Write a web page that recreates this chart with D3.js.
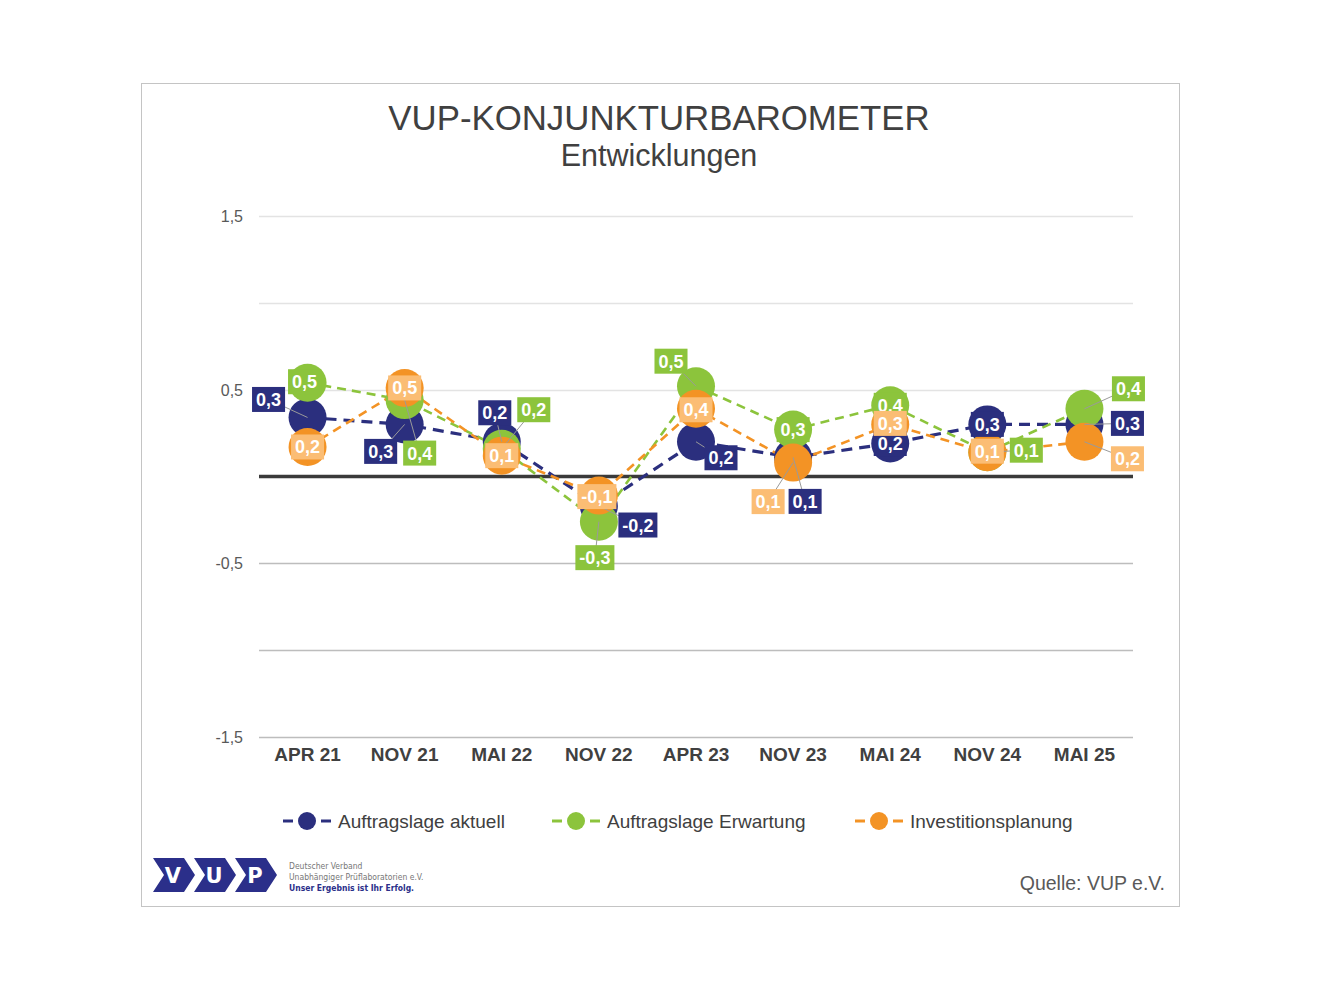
<!DOCTYPE html>
<html>
<head>
<meta charset="utf-8">
<script src="https://cdn.jsdelivr.net/npm/d3@7"></script>
<style>
  body { margin: 0; background: #fff; }
  svg { display: block; }
</style>
</head>
<body>
<div id="chart"></div>
<script>
// data
var categories = ["APR 21", "NOV 21", "MAI 22", "NOV 22", "APR 23", "NOV 23", "MAI 24", "NOV 24", "MAI 25"];
var aktuell    = [0.34, 0.30, 0.20, -0.17, 0.20, 0.11, 0.19, 0.30, 0.30];
var erwartung  = [0.54, 0.44, 0.16, -0.26, 0.52, 0.27, 0.41, 0.14, 0.39];
var investition = [0.17, 0.51, 0.12, -0.11, 0.39, 0.08, 0.30, 0.14, 0.20];
var seriesNames = ["Auftragslage aktuell", "Auftragslage Erwartung", "Investitionsplanung"];
var yTicks = [-1.5, -1, -0.5, 0, 0.5, 1, 1.5];
var yTickLabels = [-1.5, -0.5, 0.5, 1.5];

// label offsets (px) from each marker, per series
var labelShift = [
  [[-39,-18],[-24,27],[-7,-29],[39,19],[25,16],[12,44],[0,0],[0,0],[43,-1]],
  [[-3,-1],[15,53],[32,-39],[-4,36],[-25,-25],[0,0],[0,0],[39,-2],[44,-20]],
  [[0,0],[0,0],[0,0],[-2,1],[0,1],[-25,39],[0,-1],[0,-1],[43,17]]
];

var colors = ["#2b2f7e", "#8cc43c", "#f39325"];
var labelFill = ["#2b2f7e", "#8cc43c", "#fbbd74"];

var W = 1320, H = 990;
var margin = ({top: 216, right: 187, bottom: 253, left: 259});

var svg = d3.select("#chart").append("svg")
  .attr("width", W).attr("height", H);

// frame
svg.append("rect")
  .attr("x", 141.5).attr("y", 83.5)
  .attr("width", 1038).attr("height", 823)
  .attr("fill", "#fff").attr("stroke", "#c4c4c4").attr("stroke-width", 1);

// titles
svg.append("text").attr("x", 659).attr("y", 130)
  .attr("text-anchor", "middle")
  .style("font-family", "'Liberation Sans', Arial, sans-serif")
  .style("font-size", "34.8px").attr("fill", "#404040")
  .text("VUP-KONJUNKTURBAROMETER");
svg.append("text").attr("x", 659).attr("y", 166)
  .attr("text-anchor", "middle")
  .style("font-family", "'Liberation Sans', Arial, sans-serif")
  .style("font-size", "30.5px").attr("fill", "#404040")
  .text("Entwicklungen");

var x = d3.scaleBand()
  .domain(categories)
  .range([margin.left, W - margin.right])
  .padding(0);

var y = d3.scaleLinear()
  .domain([-1.5, 1.5])
  .range([H - margin.bottom, margin.top]);

var cx = d => x(d) + x.bandwidth() / 2;

// grid
svg.append("g").selectAll("line")
  .data(yTicks.filter(d => d !== 0))
  .join("line")
  .attr("x1", margin.left).attr("x2", W - margin.right)
  .attr("y1", d => Math.round(y(d)) + 0.5).attr("y2", d => Math.round(y(d)) + 0.5)
  .attr("stroke", d => d > 0 ? "#e3e3e3" : "#bdbdbd")
  .attr("stroke-width", 1.5);

var fmt = v => d3.format(".1f")(v).replace(".", ",").replace("\u2212", "-");

svg.append("g").selectAll("text")
  .data(yTickLabels)
  .join("text")
  .attr("x", 243).attr("y", d => y(d) + 6)
  .attr("text-anchor", "end")
  .style("font-family", "'Liberation Sans', Arial, sans-serif")
  .style("font-size", "16px").attr("fill", "#595959")
  .text(fmt);

// zero line
svg.append("line")
  .attr("x1", margin.left).attr("x2", W - margin.right)
  .attr("y1", y(0)).attr("y2", y(0))
  .attr("stroke", "#3a3a3a").attr("stroke-width", 3.5);

// x labels
svg.append("g").selectAll("text")
  .data(categories)
  .join("text")
  .attr("x", d => cx(d)).attr("y", 761)
  .attr("text-anchor", "middle")
  .style("font-family", "'Liberation Sans', Arial, sans-serif")
  .style("font-size", "19px").style("font-weight", "bold")
  .attr("fill", "#404040")
  .text(d => d);

var allSeries = [aktuell, erwartung, investition];

var line = d3.line()
  .x((d, i) => cx(categories[i]))
  .y(d => y(d));

// dashed lines
svg.append("g").selectAll("path")
  .data(allSeries)
  .join("path")
  .attr("d", d => line(d))
  .attr("fill", "none")
  .attr("stroke", (d, i) => colors[i])
  .attr("stroke-width", (d, i) => i === 0 ? 3.2 : 2.6)
  .attr("stroke-dasharray", (d, i) => i === 0 ? "11,7" : "9,6");

// markers
allSeries.forEach(function (s, si) {
  svg.append("g").selectAll("circle")
    .data(s)
    .join("circle")
    .attr("cx", (d, i) => cx(categories[i]))
    .attr("cy", d => y(d))
    .attr("r", 19)
    .attr("fill", colors[si]);
});

// leader lines
allSeries.forEach(function (s, si) {
  svg.append("g").selectAll("line")
    .data(s.map((v, i) => ({v: v, i: i, off: labelShift[si][i]}))
      .filter(d => Math.hypot(d.off[0], d.off[1]) > 15))
    .join("line")
    .attr("x1", d => cx(categories[d.i]))
    .attr("y1", d => y(d.v))
    .attr("x2", d => cx(categories[d.i]) + d.off[0])
    .attr("y2", d => y(d.v) + d.off[1])
    .attr("stroke", "#9a9a9a").attr("stroke-width", 1);
});

// data labels
allSeries.forEach(function (s, si) {
  var g = svg.append("g").selectAll("g")
    .data(s.map((v, i) => ({v: v, i: i, off: labelShift[si][i]})))
    .join("g")
    .attr("transform", d => `translate(${cx(categories[d.i]) + d.off[0]},${y(d.v) + d.off[1]})`);
  var t = g.append("text")
    .attr("text-anchor", "middle")
    .attr("y", 6.5)
    .style("font-family", "'Liberation Sans Narrow', 'Arial Narrow', 'Liberation Sans', sans-serif")
    .style("font-size", "18px").style("font-weight", "bold")
    .attr("fill", "#fff")
    .text(d => fmt(d.v));
  g.each(function () {
    var node = d3.select(this);
    var w = node.select("text").node().getComputedTextLength() + 8;
    node.insert("rect", "text")
      .attr("x", -w / 2).attr("y", -12.5)
      .attr("width", w).attr("height", 25)
      .attr("fill", labelFill[si]);
  });
});

// legend
var legendX = [283, 552, 855];
var leg = svg.append("g").selectAll("g")
  .data(seriesNames)
  .join("g")
  .attr("transform", (d, i) => `translate(${legendX[i]},821)`);
leg.append("line").attr("x1", 0).attr("x2", 10)
  .attr("stroke", (d, i) => colors[i]).attr("stroke-width", 3);
leg.append("line").attr("x1", 38).attr("x2", 48)
  .attr("stroke", (d, i) => colors[i]).attr("stroke-width", 3);
leg.append("circle").attr("cx", 24).attr("r", 9)
  .attr("fill", (d, i) => colors[i]);
leg.append("text").attr("x", 55).attr("y", 7)
  .style("font-family", "'Liberation Sans', Arial, sans-serif")
  .style("font-size", "19px").attr("fill", "#404040")
  .text(d => d);

// logo
var logoLetters = ["V", "U", "P"];
var logo = svg.append("g").selectAll("g")
  .data(logoLetters)
  .join("g")
  .attr("transform", (d, i) => `translate(${153 + i * 41},858)`);
logo.append("path")
  .attr("d", "M0,0 L31,0 L42,17 L31,34 L0,34 L11,17 Z")
  .attr("fill", "#2b2f8a");
logo.append("text").attr("x", 20).attr("y", 25)
  .attr("text-anchor", "middle")
  .style("font-family", "'DejaVu Sans', sans-serif")
  .style("font-size", "21px").style("font-weight", "bold")
  .attr("fill", "#fff")
  .text(d => d);

var logoText = ["Deutscher Verband", "Unabhängiger Prüflaboratorien e.V.", "Unser Ergebnis ist Ihr Erfolg."];
svg.append("g").selectAll("text")
  .data(logoText)
  .join("text")
  .attr("x", 289).attr("y", (d, i) => 869 + i * 11)
  .style("font-family", "'DejaVu Sans Condensed', 'DejaVu Sans', sans-serif")
  .style("font-size", "8.5px")
  .style("font-weight", (d, i) => i === 2 ? "bold" : "normal")
  .attr("fill", (d, i) => i === 2 ? "#2b2f8a" : "#777")
  .text(d => d);

svg.append("text").attr("x", 1165).attr("y", 890)
  .attr("text-anchor", "end")
  .style("font-family", "'Liberation Sans', Arial, sans-serif")
  .style("font-size", "19.5px").attr("fill", "#595959")
  .text("Quelle: VUP e.V.");
</script>
</body>
</html>
